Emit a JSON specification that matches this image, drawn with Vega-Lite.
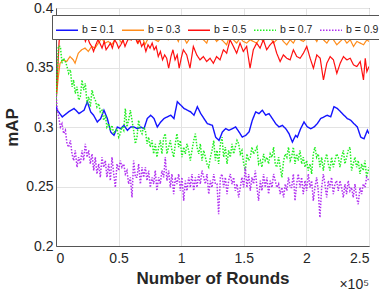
{
"$schema": "https://vega.github.io/schema/vega-lite/v6.json",
"width": 313, "height": 238,
"autosize": {"type": "none"},
"padding": {"left": 56, "top": 8, "right": 10, "bottom": 45},
"background": "white",
"config": {"font": "Liberation Sans", "view": {"stroke": "#555555", "strokeWidth": 1},
  "axis": {"gridColor": "#e3e3e3", "gridWidth": 1, "domainColor": "#555555", "ticks": false, "labelColor": "#262626", "labelFontSize": 14, "titleFontSize": 17, "titleFontWeight": "bold", "titleColor": "#262626"},
  "title": {"fontSize": 14, "fontWeight": "normal", "color": "#262626"}},
"title": {"text": "×10⁵", "orient": "bottom", "anchor": "end", "frame": "group", "fontSize": 14, "fontWeight": "normal", "color": "#262626", "offset": -8},
"datasets": {
"b1": [
{"r":0,"m":0.318},{"r":1000,"m":0.3141},{"r":5000,"m":0.3085},{"r":10000,"m":0.3127},{"r":14400,"m":0.3156},{"r":18400,"m":0.3113},{"r":22400,"m":0.3141},{"r":25000,"m":0.3212},{"r":27700,"m":0.3127},{"r":30000,"m":0.3099},{"r":33000,"m":0.3042},{"r":35700,"m":0.3071},{"r":38300,"m":0.3141},{"r":41000,"m":0.3071},{"r":43700,"m":0.2958},{"r":46300,"m":0.293},{"r":49000,"m":0.300},{"r":51700,"m":0.2986},{"r":54300,"m":0.3014},{"r":57000,"m":0.2972},{"r":59700,"m":0.300},{"r":62300,"m":0.300},{"r":64900,"m":0.2986},{"r":67600,"m":0.300},{"r":70300,"m":0.2986},{"r":72900,"m":0.3071},{"r":75600,"m":0.3099},{"r":78300,"m":0.3071},{"r":80900,"m":0.300},{"r":83600,"m":0.3042},{"r":86300,"m":0.3071},{"r":88900,"m":0.3085},{"r":91600,"m":0.3099},{"r":94200,"m":0.3071},{"r":96900,"m":0.3212},{"r":99600,"m":0.3184},{"r":102200,"m":0.3156},{"r":104900,"m":0.3141},{"r":107600,"m":0.3127},{"r":110200,"m":0.3099},{"r":112900,"m":0.317},{"r":115600,"m":0.3113},{"r":118200,"m":0.3071},{"r":120900,"m":0.3028},{"r":124900,"m":0.3014},{"r":127500,"m":0.2915},{"r":130200,"m":0.2887},{"r":132900,"m":0.2958},{"r":135500,"m":0.2986},{"r":138200,"m":0.2972},{"r":140800,"m":0.2986},{"r":143500,"m":0.300},{"r":146200,"m":0.2958},{"r":148800,"m":0.2915},{"r":151500,"m":0.293},{"r":154200,"m":0.2958},{"r":156800,"m":0.3057},{"r":159500,"m":0.3127},{"r":162100,"m":0.3113},{"r":164800,"m":0.3141},{"r":167500,"m":0.3099},{"r":170100,"m":0.3113},{"r":172800,"m":0.3071},{"r":175500,"m":0.3028},{"r":178100,"m":0.300},{"r":180800,"m":0.3014},{"r":183500,"m":0.2986},{"r":186100,"m":0.2944},{"r":188800,"m":0.2873},{"r":191400,"m":0.293},{"r":192800,"m":0.2915},{"r":195400,"m":0.2986},{"r":198100,"m":0.3042},{"r":200800,"m":0.300},{"r":203400,"m":0.2986},{"r":206100,"m":0.300},{"r":208700,"m":0.3028},{"r":211400,"m":0.3071},{"r":214100,"m":0.3085},{"r":216700,"m":0.3099},{"r":219400,"m":0.3085},{"r":222000,"m":0.317},{"r":224700,"m":0.3156},{"r":227400,"m":0.3127},{"r":230000,"m":0.3099},{"r":232700,"m":0.3071},{"r":235400,"m":0.3057},{"r":238000,"m":0.3028},{"r":240700,"m":0.300},{"r":243400,"m":0.2915},{"r":246000,"m":0.2901},{"r":248700,"m":0.2972},{"r":250000,"m":0.2944}
],
"b3": [
{"r":0,"m":0.3226},{"r":1900,"m":0.3423},{"r":3200,"m":0.3536},{"r":5800,"m":0.3564},{"r":8500,"m":0.355},{"r":11200,"m":0.3592},{"r":13800,"m":0.3564},{"r":15200,"m":0.3536},{"r":17800,"m":0.362},{"r":20500,"m":0.3649},{"r":23200,"m":0.3663},{"r":25800,"m":0.3635},{"r":28500,"m":0.3677},{"r":31200,"m":0.3663},{"r":33800,"m":0.3705},{"r":36500,"m":0.3747},{"r":39100,"m":0.3705},{"r":41800,"m":0.3719},{"r":44500,"m":0.3691},{"r":47100,"m":0.3733},{"r":49800,"m":0.3747},{"r":52500,"m":0.3705},{"r":55100,"m":0.3761},{"r":57800,"m":0.3733},{"r":60400,"m":0.3733},{"r":63100,"m":0.3761},{"r":65800,"m":0.3705},{"r":68400,"m":0.3776},{"r":71100,"m":0.3691},{"r":73700,"m":0.3747},{"r":76400,"m":0.3761},{"r":79100,"m":0.3733},{"r":81700,"m":0.3719},{"r":84400,"m":0.3761},{"r":87100,"m":0.379},{"r":89700,"m":0.3733},{"r":92400,"m":0.3747},{"r":95000,"m":0.3776},{"r":97700,"m":0.3719},{"r":100400,"m":0.3804},{"r":101700,"m":0.3761},{"r":104400,"m":0.3705},{"r":107000,"m":0.3747},{"r":109700,"m":0.3776},{"r":112400,"m":0.3733},{"r":115000,"m":0.3761},{"r":117700,"m":0.3733},{"r":120400,"m":0.3705},{"r":123000,"m":0.379},{"r":125700,"m":0.3761},{"r":128300,"m":0.3719},{"r":131000,"m":0.3747},{"r":133700,"m":0.3719},{"r":136300,"m":0.3691},{"r":139000,"m":0.3776},{"r":141700,"m":0.3733},{"r":144300,"m":0.3705},{"r":147000,"m":0.3747},{"r":149600,"m":0.3719},{"r":152300,"m":0.3705},{"r":155000,"m":0.3733},{"r":157600,"m":0.3719},{"r":160300,"m":0.3705},{"r":163000,"m":0.3747},{"r":165600,"m":0.3719},{"r":168300,"m":0.379},{"r":171000,"m":0.3761},{"r":173600,"m":0.3705},{"r":176300,"m":0.3733},{"r":179000,"m":0.3761},{"r":181600,"m":0.3719},{"r":184300,"m":0.3691},{"r":187000,"m":0.3733},{"r":189600,"m":0.3705},{"r":192300,"m":0.3761},{"r":195000,"m":0.3733},{"r":197600,"m":0.3719},{"r":200300,"m":0.3747},{"r":203000,"m":0.379},{"r":205600,"m":0.3761},{"r":208300,"m":0.3719},{"r":211000,"m":0.3776},{"r":213600,"m":0.3733},{"r":216300,"m":0.3705},{"r":219000,"m":0.3747},{"r":221600,"m":0.3733},{"r":224300,"m":0.3691},{"r":227000,"m":0.3719},{"r":229600,"m":0.3747},{"r":232300,"m":0.3705},{"r":235000,"m":0.3733},{"r":237600,"m":0.3677},{"r":240300,"m":0.3719},{"r":243000,"m":0.3705},{"r":245600,"m":0.3691},{"r":248300,"m":0.3733},{"r":250000,"m":0.3719}
],
"b5": [
{"r":0,"m":0.318},{"r":1200,"m":0.345},{"r":2500,"m":0.372},{"r":4000,"m":0.381},{"r":5500,"m":0.377},{"r":7000,"m":0.383},{"r":8500,"m":0.379},{"r":10000,"m":0.384},{"r":11800,"m":0.377},{"r":13500,"m":0.382},{"r":15000,"m":0.379},{"r":16500,"m":0.376},{"r":18000,"m":0.383},{"r":20000,"m":0.377},{"r":21800,"m":0.378},{"r":23500,"m":0.3719},{"r":25000,"m":0.376},{"r":26800,"m":0.3705},{"r":28500,"m":0.3677},{"r":30000,"m":0.3635},{"r":31800,"m":0.3691},{"r":33500,"m":0.3733},{"r":35000,"m":0.3705},{"r":36800,"m":0.3663},{"r":38500,"m":0.3719},{"r":40000,"m":0.3649},{"r":41800,"m":0.3677},{"r":43500,"m":0.3705},{"r":45000,"m":0.3663},{"r":46800,"m":0.3733},{"r":48500,"m":0.3705},{"r":50000,"m":0.3663},{"r":51800,"m":0.3691},{"r":53500,"m":0.3733},{"r":55100,"m":0.3677},{"r":56800,"m":0.3719},{"r":58500,"m":0.3761},{"r":60000,"m":0.3733},{"r":61800,"m":0.378},{"r":63500,"m":0.3747},{"r":65100,"m":0.3705},{"r":66800,"m":0.3733},{"r":68400,"m":0.3677},{"r":70000,"m":0.3705},{"r":71800,"m":0.3635},{"r":73500,"m":0.3691},{"r":75100,"m":0.3663},{"r":76800,"m":0.3705},{"r":78400,"m":0.3649},{"r":80000,"m":0.3677},{"r":81700,"m":0.3592},{"r":83400,"m":0.3635},{"r":85100,"m":0.3564},{"r":86800,"m":0.3606},{"r":88400,"m":0.3578},{"r":90000,"m":0.3494},{"r":91800,"m":0.3592},{"r":93400,"m":0.3649},{"r":95100,"m":0.3564},{"r":96800,"m":0.3606},{"r":98400,"m":0.3494},{"r":100000,"m":0.3578},{"r":101700,"m":0.3649},{"r":104400,"m":0.3606},{"r":107000,"m":0.3494},{"r":109700,"m":0.3677},{"r":112400,"m":0.3606},{"r":115000,"m":0.3564},{"r":117700,"m":0.3592},{"r":120400,"m":0.355},{"r":123000,"m":0.3578},{"r":125700,"m":0.3536},{"r":128300,"m":0.3592},{"r":131000,"m":0.3564},{"r":133700,"m":0.3649},{"r":136300,"m":0.362},{"r":139000,"m":0.3733},{"r":141700,"m":0.3677},{"r":144300,"m":0.362},{"r":147000,"m":0.3705},{"r":149600,"m":0.3635},{"r":152300,"m":0.3677},{"r":155000,"m":0.3494},{"r":157600,"m":0.3649},{"r":160300,"m":0.3705},{"r":163000,"m":0.3663},{"r":165600,"m":0.3733},{"r":168300,"m":0.3649},{"r":171000,"m":0.3691},{"r":173600,"m":0.3719},{"r":176300,"m":0.362},{"r":179000,"m":0.355},{"r":181600,"m":0.3606},{"r":184300,"m":0.3578},{"r":187000,"m":0.3564},{"r":189600,"m":0.3649},{"r":192300,"m":0.3592},{"r":195000,"m":0.3578},{"r":197600,"m":0.362},{"r":200300,"m":0.3677},{"r":203000,"m":0.3578},{"r":205600,"m":0.3494},{"r":208300,"m":0.3606},{"r":211000,"m":0.3578},{"r":213600,"m":0.3395},{"r":216300,"m":0.3536},{"r":219000,"m":0.3592},{"r":221600,"m":0.3564},{"r":224300,"m":0.3451},{"r":227000,"m":0.3536},{"r":229600,"m":0.3592},{"r":232300,"m":0.3564},{"r":235000,"m":0.3578},{"r":237600,"m":0.3522},{"r":240300,"m":0.3508},{"r":243000,"m":0.355},{"r":245600,"m":0.3395},{"r":247000,"m":0.3578},{"r":248300,"m":0.3465},{"r":250000,"m":0.3508}
],
"b7": [
{"r":0,"m":0.318},{"r":1000,"m":0.345},{"r":1900,"m":0.368},{"r":3500,"m":0.3677},{"r":4800,"m":0.3536},{"r":6100,"m":0.3578},{"r":7500,"m":0.355},{"r":8800,"m":0.3508},{"r":10100,"m":0.3451},{"r":11500,"m":0.348},{"r":12800,"m":0.3338},{"r":14100,"m":0.3395},{"r":15400,"m":0.3282},{"r":16800,"m":0.3338},{"r":18100,"m":0.3226},{"r":19400,"m":0.3254},{"r":20800,"m":0.3395},{"r":22100,"m":0.331},{"r":23400,"m":0.3367},{"r":24800,"m":0.3197},{"r":26100,"m":0.3254},{"r":27400,"m":0.3169},{"r":28800,"m":0.331},{"r":30100,"m":0.3254},{"r":31400,"m":0.3226},{"r":32700,"m":0.3169},{"r":34100,"m":0.3197},{"r":35400,"m":0.3127},{"r":36700,"m":0.3141},{"r":38100,"m":0.3056},{"r":39400,"m":0.3099},{"r":40700,"m":0.3},{"r":42100,"m":0.3028},{"r":43400,"m":0.2972},{"r":44700,"m":0.3014},{"r":46100,"m":0.2944},{"r":47400,"m":0.2972},{"r":48700,"m":0.2986},{"r":50100,"m":0.2915},{"r":51400,"m":0.2944},{"r":52700,"m":0.3},{"r":54100,"m":0.2972},{"r":55400,"m":0.3155},{"r":56700,"m":0.3},{"r":58000,"m":0.3056},{"r":59400,"m":0.3141},{"r":60700,"m":0.3056},{"r":62000,"m":0.2972},{"r":63400,"m":0.2859},{"r":64700,"m":0.2915},{"r":66000,"m":0.3056},{"r":67400,"m":0.2972},{"r":68700,"m":0.2944},{"r":70000,"m":0.3},{"r":71400,"m":0.2972},{"r":72700,"m":0.2859},{"r":74000,"m":0.2915},{"r":75300,"m":0.2831},{"r":76700,"m":0.2887},{"r":78000,"m":0.2774},{"r":79300,"m":0.2859},{"r":80600,"m":0.2746},{"r":82000,"m":0.2831},{"r":83300,"m":0.2887},{"r":84600,"m":0.2774},{"r":86000,"m":0.2915},{"r":87300,"m":0.2944},{"r":88600,"m":0.2774},{"r":90000,"m":0.2831},{"r":91300,"m":0.2887},{"r":92600,"m":0.2803},{"r":94000,"m":0.2746},{"r":95300,"m":0.2859},{"r":96600,"m":0.2944},{"r":98000,"m":0.2831},{"r":99300,"m":0.2887},{"r":100600,"m":0.2746},{"r":102000,"m":0.2831},{"r":103300,"m":0.2774},{"r":104600,"m":0.2859},{"r":106000,"m":0.2803},{"r":107300,"m":0.2718},{"r":108600,"m":0.2803},{"r":110000,"m":0.2887},{"r":111300,"m":0.2944},{"r":112600,"m":0.2831},{"r":114000,"m":0.2774},{"r":115300,"m":0.2859},{"r":116600,"m":0.2718},{"r":118000,"m":0.2803},{"r":119300,"m":0.2746},{"r":120600,"m":0.269},{"r":122000,"m":0.2662},{"r":123300,"m":0.2746},{"r":124600,"m":0.2803},{"r":126000,"m":0.2887},{"r":127300,"m":0.2718},{"r":128600,"m":0.2803},{"r":129900,"m":0.269},{"r":131300,"m":0.2859},{"r":132600,"m":0.2915},{"r":133900,"m":0.2746},{"r":135300,"m":0.2831},{"r":136600,"m":0.269},{"r":137900,"m":0.2803},{"r":139200,"m":0.2746},{"r":140600,"m":0.2859},{"r":141900,"m":0.2774},{"r":143200,"m":0.2831},{"r":144600,"m":0.2887},{"r":145900,"m":0.2859},{"r":147200,"m":0.2774},{"r":148500,"m":0.2803},{"r":149900,"m":0.269},{"r":151200,"m":0.2634},{"r":152500,"m":0.2774},{"r":153900,"m":0.2718},{"r":155200,"m":0.2746},{"r":156500,"m":0.2831},{"r":157800,"m":0.2774},{"r":159200,"m":0.2803},{"r":160500,"m":0.2831},{"r":161800,"m":0.269},{"r":163200,"m":0.2718},{"r":164500,"m":0.2662},{"r":165800,"m":0.2774},{"r":167100,"m":0.2718},{"r":168500,"m":0.2746},{"r":169800,"m":0.269},{"r":171100,"m":0.2774},{"r":172500,"m":0.2746},{"r":173800,"m":0.2831},{"r":175100,"m":0.269},{"r":176400,"m":0.2662},{"r":177800,"m":0.2746},{"r":179100,"m":0.2662},{"r":180400,"m":0.2577},{"r":181800,"m":0.2718},{"r":183100,"m":0.2774},{"r":184400,"m":0.2746},{"r":185700,"m":0.2831},{"r":187100,"m":0.2718},{"r":188200,"m":0.2746},{"r":189600,"m":0.2831},{"r":190900,"m":0.269},{"r":192200,"m":0.2774},{"r":193500,"m":0.2718},{"r":194900,"m":0.2803},{"r":196200,"m":0.269},{"r":197500,"m":0.2746},{"r":198900,"m":0.2662},{"r":200200,"m":0.2718},{"r":201500,"m":0.2634},{"r":202900,"m":0.269},{"r":204200,"m":0.2605},{"r":205500,"m":0.2774},{"r":206800,"m":0.2831},{"r":208200,"m":0.2746},{"r":209500,"m":0.2774},{"r":210800,"m":0.2662},{"r":212200,"m":0.2746},{"r":213500,"m":0.2634},{"r":214800,"m":0.2718},{"r":216200,"m":0.2774},{"r":217500,"m":0.269},{"r":218800,"m":0.2634},{"r":220100,"m":0.2746},{"r":221500,"m":0.2662},{"r":222800,"m":0.2718},{"r":224100,"m":0.2774},{"r":225500,"m":0.2746},{"r":226800,"m":0.2662},{"r":228100,"m":0.2746},{"r":229500,"m":0.2803},{"r":230800,"m":0.269},{"r":232100,"m":0.2746},{"r":233400,"m":0.2803},{"r":234800,"m":0.2831},{"r":236100,"m":0.2634},{"r":237400,"m":0.269},{"r":238800,"m":0.2746},{"r":240100,"m":0.2662},{"r":241400,"m":0.2718},{"r":242800,"m":0.2605},{"r":244100,"m":0.269},{"r":245400,"m":0.2634},{"r":246800,"m":0.2718},{"r":248100,"m":0.2577},{"r":250000,"m":0.2662}
],
"b9": [
{"r":0,"m":0.328},{"r":800,"m":0.317},{"r":2100,"m":0.3085},{"r":3500,"m":0.3},{"r":4800,"m":0.3028},{"r":6100,"m":0.2944},{"r":7500,"m":0.2972},{"r":8800,"m":0.2859},{"r":10100,"m":0.2831},{"r":11500,"m":0.2887},{"r":12800,"m":0.2774},{"r":14100,"m":0.2718},{"r":15400,"m":0.2803},{"r":16800,"m":0.2662},{"r":18100,"m":0.2746},{"r":19400,"m":0.269},{"r":20800,"m":0.2803},{"r":22100,"m":0.2718},{"r":23400,"m":0.2859},{"r":24800,"m":0.2746},{"r":26100,"m":0.2803},{"r":27400,"m":0.269},{"r":28800,"m":0.2774},{"r":30100,"m":0.2634},{"r":31400,"m":0.2746},{"r":32700,"m":0.2605},{"r":34100,"m":0.269},{"r":35400,"m":0.2577},{"r":36700,"m":0.2746},{"r":38100,"m":0.2662},{"r":39400,"m":0.2718},{"r":40700,"m":0.2577},{"r":42100,"m":0.269},{"r":43400,"m":0.2549},{"r":44700,"m":0.2746},{"r":46100,"m":0.2605},{"r":47400,"m":0.2492},{"r":48700,"m":0.269},{"r":50100,"m":0.2634},{"r":51400,"m":0.2718},{"r":52700,"m":0.2662},{"r":54100,"m":0.269},{"r":55400,"m":0.2605},{"r":56700,"m":0.2634},{"r":58000,"m":0.2521},{"r":59400,"m":0.2577},{"r":60700,"m":0.2408},{"r":62000,"m":0.2718},{"r":63400,"m":0.2577},{"r":64700,"m":0.2577},{"r":66000,"m":0.269},{"r":67400,"m":0.2521},{"r":68700,"m":0.2662},{"r":70000,"m":0.2577},{"r":71400,"m":0.2662},{"r":72700,"m":0.2549},{"r":74000,"m":0.2634},{"r":75300,"m":0.2492},{"r":76700,"m":0.2577},{"r":78000,"m":0.2521},{"r":79300,"m":0.2634},{"r":80600,"m":0.2464},{"r":82000,"m":0.2577},{"r":83300,"m":0.2521},{"r":84600,"m":0.2634},{"r":86000,"m":0.2577},{"r":87300,"m":0.2746},{"r":88600,"m":0.2549},{"r":90000,"m":0.2634},{"r":91300,"m":0.2492},{"r":92600,"m":0.2605},{"r":94000,"m":0.2436},{"r":95300,"m":0.2577},{"r":96600,"m":0.2521},{"r":98000,"m":0.2605},{"r":99300,"m":0.2464},{"r":100600,"m":0.2577},{"r":102000,"m":0.238},{"r":103300,"m":0.2549},{"r":104600,"m":0.2464},{"r":106000,"m":0.2577},{"r":107300,"m":0.2492},{"r":108600,"m":0.2605},{"r":110000,"m":0.2464},{"r":111300,"m":0.2577},{"r":112600,"m":0.2492},{"r":114000,"m":0.2605},{"r":115300,"m":0.2521},{"r":116600,"m":0.2634},{"r":118000,"m":0.2577},{"r":119300,"m":0.2521},{"r":120600,"m":0.2605},{"r":122000,"m":0.2436},{"r":123300,"m":0.2549},{"r":124600,"m":0.2492},{"r":126000,"m":0.2605},{"r":127300,"m":0.2521},{"r":128600,"m":0.2521},{"r":129900,"m":0.2267},{"r":131300,"m":0.2577},{"r":132600,"m":0.2605},{"r":133900,"m":0.2492},{"r":135300,"m":0.2577},{"r":136600,"m":0.2436},{"r":137900,"m":0.2549},{"r":139200,"m":0.2605},{"r":140600,"m":0.2521},{"r":141900,"m":0.2577},{"r":143200,"m":0.2464},{"r":144600,"m":0.2521},{"r":145900,"m":0.2408},{"r":147200,"m":0.2492},{"r":148500,"m":0.2577},{"r":149900,"m":0.2492},{"r":151200,"m":0.2662},{"r":152500,"m":0.2492},{"r":153900,"m":0.2605},{"r":155200,"m":0.2464},{"r":156500,"m":0.2577},{"r":157800,"m":0.2521},{"r":159200,"m":0.2634},{"r":160500,"m":0.2492},{"r":161800,"m":0.238},{"r":163200,"m":0.2549},{"r":164500,"m":0.2464},{"r":165800,"m":0.2605},{"r":167100,"m":0.2492},{"r":168500,"m":0.2577},{"r":169800,"m":0.2436},{"r":171100,"m":0.2549},{"r":172500,"m":0.2492},{"r":173800,"m":0.2605},{"r":175100,"m":0.2549},{"r":176400,"m":0.2492},{"r":177800,"m":0.2521},{"r":179100,"m":0.2436},{"r":180400,"m":0.2492},{"r":181800,"m":0.2408},{"r":183100,"m":0.2521},{"r":184400,"m":0.2464},{"r":185700,"m":0.2577},{"r":187100,"m":0.2492},{"r":188200,"m":0.2492},{"r":189600,"m":0.2605},{"r":190900,"m":0.238},{"r":192200,"m":0.2521},{"r":193500,"m":0.2605},{"r":194900,"m":0.2492},{"r":196200,"m":0.2577},{"r":197500,"m":0.2436},{"r":198900,"m":0.2549},{"r":200200,"m":0.2464},{"r":201500,"m":0.2605},{"r":202900,"m":0.2492},{"r":204200,"m":0.2549},{"r":205500,"m":0.238},{"r":206800,"m":0.2492},{"r":208200,"m":0.2577},{"r":209500,"m":0.2464},{"r":210800,"m":0.2239},{"r":212200,"m":0.2492},{"r":213500,"m":0.2605},{"r":214800,"m":0.2521},{"r":216200,"m":0.2408},{"r":217500,"m":0.2549},{"r":218800,"m":0.2492},{"r":220100,"m":0.2577},{"r":221500,"m":0.2436},{"r":222800,"m":0.2521},{"r":224100,"m":0.2549},{"r":225500,"m":0.2464},{"r":226800,"m":0.2549},{"r":228100,"m":0.2492},{"r":229500,"m":0.2408},{"r":230800,"m":0.2521},{"r":232100,"m":0.2436},{"r":233400,"m":0.2549},{"r":234800,"m":0.2464},{"r":236100,"m":0.2492},{"r":237400,"m":0.2408},{"r":238800,"m":0.2521},{"r":240100,"m":0.2408},{"r":241400,"m":0.2351},{"r":242800,"m":0.2492},{"r":244100,"m":0.2436},{"r":245400,"m":0.2521},{"r":246800,"m":0.2492},{"r":248100,"m":0.2577},{"r":250000,"m":0.2549}
]
},
"layer": [
 {"data": {"name": "b1"}, "mark": {"type": "line", "strokeWidth": 1.4, "clip": true}, "encoding": {"color": {"datum": "b = 0.1"}, "strokeDash": {"datum": "b = 0.1"}}},
 {"data": {"name": "b3"}, "mark": {"type": "line", "strokeWidth": 1.2, "clip": true}, "encoding": {"color": {"datum": "b = 0.3"}, "strokeDash": {"datum": "b = 0.3"}}},
 {"data": {"name": "b5"}, "mark": {"type": "line", "strokeWidth": 1.2, "clip": true}, "encoding": {"color": {"datum": "b = 0.5"}, "strokeDash": {"datum": "b = 0.5"}}},
 {"data": {"name": "b7"}, "mark": {"type": "line", "strokeWidth": 1.5, "clip": true}, "encoding": {"color": {"datum": "b = 0.7"}, "strokeDash": {"datum": "b = 0.7"}}},
 {"data": {"name": "b9"}, "mark": {"type": "line", "strokeWidth": 1.5, "clip": true}, "encoding": {"color": {"datum": "b = 0.9"}, "strokeDash": {"datum": "b = 0.9"}}}
],
"encoding": {
 "x": {"field": "r", "type": "quantitative", "scale": {"domain": [0, 250000], "nice": false},
   "axis": {"values": [0, 50000, 100000, 150000, 200000, 250000], "labelExpr": "format(datum.value/100000, '~g')", "title": "Number of Rounds", "labelPadding": 5, "titlePadding": 5}},
 "y": {"field": "m", "type": "quantitative", "scale": {"domain": [0.2, 0.4], "nice": false, "zero": false},
   "axis": {"values": [0.2, 0.25, 0.3, 0.35, 0.4], "format": ".2~f", "title": "mAP", "labelPadding": 3, "titlePadding": 4}},
 "color": {"type": "nominal",
   "scale": {"domain": ["b = 0.1", "b = 0.3", "b = 0.5", "b = 0.7", "b = 0.9"], "range": ["#1414ff", "#ff8c1a", "#ff1010", "#22ee22", "#b030f0"]},
   "legend": {"orient": "none", "legendX": -4, "legendY": 7, "direction": "horizontal", "title": null, "fillColor": "white", "strokeColor": "#555555", "padding": 3, "labelFontSize": 10.5, "labelColor": "#262626", "symbolSize": 484, "symbolStrokeWidth": 1.5, "symbolType": "stroke", "columnPadding": 4, "labelOffset": 3}},
 "strokeDash": {"type": "nominal",
   "scale": {"domain": ["b = 0.1", "b = 0.3", "b = 0.5", "b = 0.7", "b = 0.9"], "range": [[1, 0], [1, 0], [1, 0], [1.5, 1.5], [1.5, 1.5]]},
   "legend": {"orient": "none", "legendX": -4, "legendY": 7, "direction": "horizontal", "title": null, "fillColor": "white", "strokeColor": "#555555", "padding": 3, "labelFontSize": 10.5, "labelColor": "#262626", "symbolSize": 484, "symbolStrokeWidth": 1.5, "symbolType": "stroke", "columnPadding": 4, "labelOffset": 3}}
}
}
